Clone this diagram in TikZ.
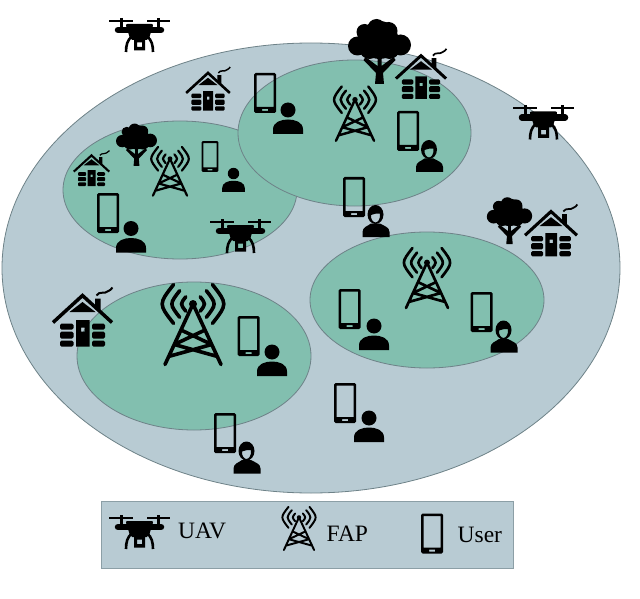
\documentclass[tikz,border=0pt]{standalone}
\usepackage{fontspec}
\setmainfont{Liberation Serif}
\definecolor{cellblue}{HTML}{B8CBD3}
\definecolor{cellgreen}{HTML}{82BFAF}
\definecolor{celledge}{HTML}{6E8288}
\tikzset{
  cell/.style={draw=celledge, line width=0.8pt},
  legendtext/.style={font=\fontsize{23.5}{25}\selectfont, anchor=west, inner sep=0pt},
  pics/drone/.style={code={
    \begin{scope}[scale=#1]
      \draw[line width=#1*2pt] (-30.5,-14.3) -- (-6.5,-14.3) (7.5,-14.3) -- (30.5,-14.3);
      \draw[line width=#1*3pt] (-18.5,-17) -- (-18.5,-8) (18.5,-17) -- (18.5,-8);
      \draw[line width=#1*6.5pt, line cap=round] (-21.5,-5) -- (21.5,-5);
      \fill[rounded corners=2pt] (-14,-11) -- (14,-11) -- (9,5) -- (-9,5) -- cycle;
      \draw[line width=#1*2.6pt] (-8,1.7) .. controls (-12,5) and (-13.5,10) .. (-13.5,17);
      \draw[line width=#1*2.6pt] (8,1.7) .. controls (12,5) and (13.5,10) .. (13.5,17);
      \fill[even odd rule] (-5.5,4) rectangle (5.5,15.5) (-2.5,7.5) rectangle (2.5,12);
    \end{scope}}},
  pics/tower/.style={code={
    \begin{scope}[scale=#1]
      \fill (0,-22.5) circle (4);
      \draw[line width=#1*3.6pt, line cap=round, line join=round] (-28,38) -- (0,-22.5) -- (28,38)
        (-12,3.5) -- (18.7,18) -- (-24.5,30) (12,3.5) -- (-18.7,18) -- (24.5,30);
      \foreach \r in {10,18.5,27} {
        \draw[line width=#1*3.6pt, line cap=round] (\r*.72,-22.5-\r*.72) .. controls (\r*1.28,-22.5) .. (\r*.72,-22.5+\r*.72);
        \draw[line width=#1*3.6pt, line cap=round] (-\r*.72,-22.5-\r*.72) .. controls (-\r*1.28,-22.5) .. (-\r*.72,-22.5+\r*.72);
      }
    \end{scope}}},
  pics/phone/.style={code={
    \begin{scope}[scale=#1]
      \fill[even odd rule] [rounded corners=#1*1.5pt] (-11,-20) rectangle (11,20)
        [sharp corners] (-8.5,-17.5) rectangle (8.5,14) (-3,16) rectangle (3,18);
    \end{scope}}},
  pics/man/.style={code={
    \begin{scope}[scale=#1]
      \fill (0,-8.5) circle (7.5);
      \fill (-15,15.5) -- (-15,11) .. controls (-15,3.5) and (-7,1) .. (0,1) .. controls (7,1) and (15,3.5) .. (15,11) -- (15,15.5) -- cycle;
    \end{scope}}},
  pics/woman/.style={code={
    \begin{scope}[scale=#1]
      \fill[even odd rule] (-.5,-6.5) ellipse (8 and 9.5)
        (-5,-6) .. controls (-2,-6.5) and (1,-8.5) .. (4,-7.5) .. controls (4.5,-2) and (2,1.5) .. (-.5,1.5) .. controls (-3,1.5) and (-5.5,-2) .. (-5,-6);
      \fill (-13.5,16) -- (-13.5,11) .. controls (-13.5,6) and (-8,5) .. (-5,2.5) -- (4,2.5) .. controls (8,5) and (13.5,6) .. (13.5,11) -- (13.5,16) -- cycle;
    \end{scope}}},
  pics/house/.style={code={
    \begin{scope}[scale=#1]
      \draw[line width=#1*3.5pt, line join=miter] (-29.5,6) -- (0,-21) -- (29.5,6);
      \fill (-13,-4.5) -- (0,-14.5) -- (13,-4.5) -- cycle;
      \fill (12.5,-18) -- (18,-18) -- (18,-3) -- (12.5,-8) -- cycle;
      \draw[line width=#1*2pt] (14,-21) .. controls (17,-26) and (22,-22) .. (25,-25) .. controls (27,-26) and (29,-27) .. (30,-29);
      \fill[even odd rule] (-6.5,3.5) rectangle (7,30) (-1.5,11) rectangle (2,15);
      \foreach \ya/\yb in {7/13,15/22,24/30} {
        \fill[rounded corners=#1*1.5pt] (-22.5,\ya) rectangle (-9,\yb);
        \fill[rounded corners=#1*1.5pt] (9.5,\ya) rectangle (22.5,\yb);
      }
    \end{scope}}},
  pics/tree/.style={code={
    \begin{scope}[scale=#1]
      \foreach \x/\y/\r in {-3/-24/9,-15/-20/8,9/-21/9,-22/-6/9.5,21/-7/10.5,0/-12/19,-10/-3/10,10/-3/10} {
        \fill (\x,\y) circle (\r);
      }
      \fill (-4.5,32) -- (-3.5,21) -- (-16,8) -- (-14,5) -- (-2,14) -- (-2,5) -- (2,5) -- (2,14) -- (14,5) -- (16,8) -- (3.5,21) -- (4.5,32) -- cycle;
    \end{scope}}},
}
\begin{document}
\begin{tikzpicture}[x=1pt, y=-1pt]
  \useasboundingbox (0,0) rectangle (640,599);
  \fill[cell, fill=cellblue] (311,268) ellipse (309 and 225);
  \foreach \x/\y/\a/\b in {194/356/117/74, 427/300/117/68, 180/190/117/69, 354.5/133/116.5/73}
  \fill[cell, fill=cellgreen] (\x,\y) ellipse ({\a} and {\b});
  \fill[draw=celledge!60!cellblue, line width=0.5pt, fill=cellblue] (101,501) rectangle (513,568);
  \foreach \x/\y in {139.5/35, 543.5/122.5, 240.5/236, 139.5/532}
  \pic at (\x,\y) {drone=1};
  \foreach \x/\y/\s in {193/326.5/1, 355/115/.68, 170/172.5/.61, 427/279.5/.75, 299/529.5/.54}
  \pic at (\x,\y) {tower=\s};
  \foreach \x/\y/\s in {265/93/1, 210/156.5/.77, 108/213/1, 408/131/1, 354/197/1, 349.5/309/1, 481.5/312/1, 248.5/336/1, 225/433/1, 345/403/1, 432/533.5/1}
  \pic at (\x,\y) {phone=\s};
  \foreach \x/\y/\s in {288/118.5/1, 233.5/180/.76, 131/237/1, 272/360.5/1, 374/334.5/1, 369/426.5/1}
  \pic at (\x,\y) {man=\s};
  \foreach \x/\y in {429.5/156, 376/221, 504/336.5, 247/457.5}
  \pic at (\x,\y) {woman=1};
  \foreach \x/\y/\s in {82.5/316.5/1, 208/88.5/.74, 91.5/168/.6, 421/73.5/.85, 551/230/.88}
  \pic at (\x,\y) {house=\s};
  \foreach \x/\y/\s in {379.5/52/1, 136.5/145/.65, 509.5/221/.72}
  \pic at (\x,\y) {tree=\s};
  \node[legendtext] (uavlabel) at (178,531) {UAV};
  \node[legendtext] (faplabel) at (326.5,534) {FAP};
  \node[legendtext] (userlabel) at (457.5,535) {User};
\end{tikzpicture}
\end{document}
